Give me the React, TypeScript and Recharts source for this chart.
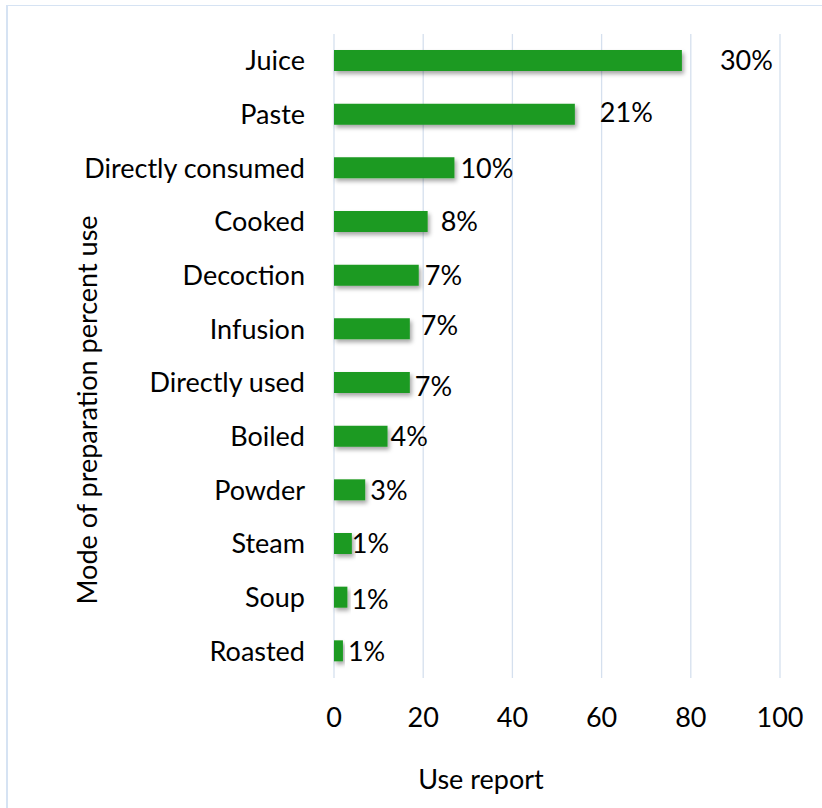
import React from "react";
import { BarChart, Bar, XAxis, YAxis, CartesianGrid, LabelList } from "recharts";

const categories = [
  "Juice",
  "Paste",
  "Directly consumed",
  "Cooked",
  "Decoction",
  "Infusion",
  "Directly used",
  "Boiled",
  "Powder",
  "Steam",
  "Soup",
  "Roasted",
];
const useReports = [78, 54, 27, 21, 19, 17, 17, 12, 7, 4, 3, 2];
const percentLabels = ["30%", "21%", "10%", "8%", "7%", "7%", "7%", "4%", "3%", "1%", "1%", "1%"];
const xTicks = [0, 20, 40, 60, 80, 100];

// label nudges (style only)
const labelDx = [38, 25, 6, 13, 6, 11, 5, 3, 5, 0, 4, 5];
const labelDy = [0, -2, 1, 0, 0, -3, 4, 0, 1, 0, 2, 1];

const data = categories.map((c, i) => ({ name: c, value: useReports[i], label: percentLabels[i] }));

const FONT = "Lato, 'Open Sans', sans-serif";
const FS = 27;

const renderLabel = (props: any) => {
  const { x, y, width, height, index } = props;
  const tx = Number(x) + Number(width) + labelDx[index];
  const ty = Number(y) + Number(height) / 2 + labelDy[index];
  return (
    <text x={tx} y={ty} dy="0.35em" fill="#000" fontFamily={FONT} fontSize={FS} textAnchor="start">
      {percentLabels[index]}
    </text>
  );
};

export default function App() {
  return (
    <div style={{ position: "absolute", left: 0, top: 0, width: 822, height: 808, background: "#fff" }}>
      <div
        style={{
          position: "absolute",
          left: 6,
          top: 5,
          width: 830,
          height: 820,
          borderLeft: "2px solid #d6e3f3",
          borderTop: "1px solid #d6e3f3",
        }}
      />
      <div style={{ position: "absolute", left: 0, top: 0 }}>
        <BarChart
          width={822}
          height={808}
          data={data}
          layout="vertical"
          margin={{ top: 34, right: 42, bottom: 100, left: 0 }}
          barSize={21}
        >
          <defs>
            <filter id="barShadow" x="-10%" y="-30%" width="130%" height="190%">
              <feDropShadow dx="2" dy="3" stdDeviation="2" floodColor="#000" floodOpacity="0.35" />
            </filter>
          </defs>
          <CartesianGrid horizontal={false} vertical={true} stroke="#d5e0ee" strokeWidth={1.3} />
          <XAxis
            type="number"
            domain={[0, 100]}
            ticks={xTicks}
            axisLine={false}
            tickLine={false}
            tickSize={0}
            tickMargin={30}
            height={30}
            tick={{ fill: "#000", fontFamily: FONT, fontSize: FS }}
            label={{
              content: (p: any) => {
                const vb = p.viewBox || {};
                return (
                  <text
                    x={481}
                    y={Number(vb.y) + 102}
                    dy="0.35em"
                    textAnchor="middle"
                    fill="#000"
                    fontFamily={FONT}
                    fontSize={FS}
                  >
                    Use report
                  </text>
                );
              },
            }}
          />
          <YAxis
            type="category"
            dataKey="name"
            width={334}
            axisLine={false}
            tickLine={false}
            tickSize={0}
            tickMargin={29}
            interval={0}
            tick={{ fill: "#000", fontFamily: FONT, fontSize: FS }}
            label={{
              content: (p: any) => {
                const vb = p.viewBox || {};
                const cx = 88;
                const cy = Number(vb.y) + Number(vb.height) / 2 + 54;
                return (
                  <text
                    x={cx}
                    y={cy}
                    dy="0.35em"
                    textAnchor="middle"
                    transform={`rotate(-90 ${cx} ${cy})`}
                    fill="#000"
                    fontFamily={FONT}
                    fontSize={FS}
                  >
                    Mode of preparation percent use
                  </text>
                );
              },
            }}
          />
          <Bar dataKey="value" fill="#1b9a20" isAnimationActive={false} filter="url(#barShadow)">
            <LabelList dataKey="label" content={renderLabel} />
          </Bar>
        </BarChart>
      </div>
    </div>
  );
}
